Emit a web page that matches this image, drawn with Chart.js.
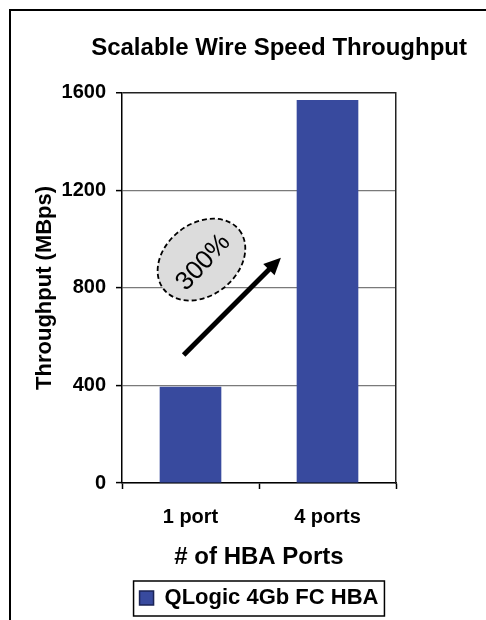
<!DOCTYPE html>
<html>
<head>
<meta charset="utf-8">
<script src="https://cdn.jsdelivr.net/npm/chart.js@4"></script>
<style>
  html, body { margin: 0; padding: 0; background: #fff; }
  #wrap { position: relative; width: 486px; height: 620px; }
</style>
</head>
<body>
<div id="wrap"><canvas id="chart" width="486" height="620"></canvas></div>
<script>
// Chart data
const categories = ['1 port', '4 ports'];
const throughput = [395, 1570];
const seriesName = 'QLogic 4Gb FC HBA';
const yTicks = [0, 400, 800, 1200, 1600];

// "300%" callout, in data space: [category index, MBps]
const calloutCenter = [0.08, 916];
const arrowFrom = [-0.05, 525];
const arrowTo = [0.66, 924];

const barColor = '#384a9e';

// frame, legend box and the 300% callout
const extras = {
    id: 'extras',
    afterDraw(chart) {
        const c = chart.ctx;
        const x = chart.scales.x, y = chart.scales.y;

        // outer frame (left + top)
        c.save();
        c.strokeStyle = '#000';
        c.lineWidth = 2;
        c.beginPath();
        c.moveTo(10, 620);
        c.lineTo(10, 10);
        c.lineTo(486, 10);
        c.stroke();
        c.restore();

        // legend border
        const lg = chart.legend;
        if (lg && lg.legendHitBoxes.length) {
            const hb = lg.legendHitBoxes[0];
            const mid = hb.top + hb.height / 2;
            c.save();
            c.strokeStyle = '#000';
            c.lineWidth = 1.5;
            c.strokeRect(hb.left - 6, mid - 17, hb.width + 12, 35);
            c.restore();
        }

        // ellipse with dashed outline
        const cx = x.getPixelForValue(calloutCenter[0]);
        const cy = y.getPixelForValue(calloutCenter[1]);
        c.save();
        c.translate(cx, cy);
        c.rotate(-38 * Math.PI / 180);
        c.beginPath();
        c.ellipse(0, 0, 48, 36, 0, 0, Math.PI * 2);
        c.fillStyle = '#dcdcdc';
        c.fill();
        c.setLineDash([5, 3]);
        c.lineWidth = 1.8;
        c.strokeStyle = '#000';
        c.stroke();
        c.restore();

        c.save();
        c.translate(cx + 2, cy + 3);
        c.rotate(-47 * Math.PI / 180);
        c.fillStyle = '#000';
        c.font = '26px "Liberation Sans", Arial, sans-serif';
        c.textAlign = 'center';
        c.textBaseline = 'middle';
        c.fillText('300%', 0, 0);
        c.restore();

        // arrow
        const x1 = x.getPixelForValue(arrowFrom[0]), y1 = y.getPixelForValue(arrowFrom[1]);
        const x2 = x.getPixelForValue(arrowTo[0]), y2 = y.getPixelForValue(arrowTo[1]);
        const ang = Math.atan2(y2 - y1, x2 - x1);
        const head = 17;
        c.save();
        c.strokeStyle = '#000';
        c.fillStyle = '#000';
        c.lineWidth = 5;
        c.beginPath();
        c.moveTo(x1, y1);
        c.lineTo(x2 - head * 0.8 * Math.cos(ang), y2 - head * 0.8 * Math.sin(ang));
        c.stroke();
        c.beginPath();
        c.moveTo(x2, y2);
        c.lineTo(x2 - head * Math.cos(ang) + 8 * Math.sin(ang), y2 - head * Math.sin(ang) - 8 * Math.cos(ang));
        c.lineTo(x2 - head * Math.cos(ang) - 8 * Math.sin(ang), y2 - head * Math.sin(ang) + 8 * Math.cos(ang));
        c.closePath();
        c.fill();
        c.restore();
    }
};

const font = '"Liberation Sans", Arial, sans-serif';

new Chart(document.getElementById('chart'), {
    type: 'bar',
    data: {
        labels: categories,
        datasets: [{
            label: seriesName,
            data: throughput,
            backgroundColor: barColor,
            borderWidth: 0,
            categoryPercentage: 1,
            barPercentage: 0.45
        }]
    },
    options: {
        responsive: false,
        animation: false,
        devicePixelRatio: 1,
        layout: { padding: { left: 0, right: 19, top: 0, bottom: 1 } },
        plugins: {
            title: {
                display: true,
                align: 'end',
                text: 'Scalable Wire Speed Throughput',
                color: '#000',
                font: { family: font, size: 24, weight: 'bold' },
                padding: { top: 34, bottom: 30 }
            },
            legend: {
                position: 'bottom',
                fullSize: false,
                labels: {
                    color: '#000',
                    font: { family: font, size: 22, weight: 'bold' },
                    boxWidth: 14,
                    boxHeight: 14,
                    padding: 8,
                    generateLabels: (chart) => [{
                        text: seriesName,
                        fillStyle: barColor,
                        strokeStyle: '#1a2355',
                        lineWidth: 1.5,
                        datasetIndex: 0
                    }]
                }
            },
            tooltip: { enabled: false }
        },
        scales: {
            x: {
                grid: {
                    offset: true,
                    drawOnChartArea: false,
                    drawTicks: true,
                    tickLength: 6,
                    tickColor: '#000',
                    tickWidth: 1.5
                },
                border: { color: '#000', width: 1.5 },
                ticks: {
                    color: '#000',
                    padding: 16,
                    font: { family: font, size: 20, weight: 'bold' }
                },
                title: {
                    display: true,
                    text: '# of HBA Ports',
                    color: '#000',
                    font: { family: font, size: 24, weight: 'bold' },
                    padding: { top: 0, bottom: 7 }
                },
                afterFit: (s) => { s.height = 96; }
            },
            y: {
                min: 0,
                max: 1600,
                afterBuildTicks: (s) => { s.ticks = yTicks.map(v => ({ value: v })); },
                grid: {
                    color: (ctx) => ctx.tick && ctx.tick.value === 1600 ? '#222' : '#7a7a7a',
                    lineWidth: (ctx) => ctx.tick && ctx.tick.value === 1600 ? 1.5 : 1.2,
                    tickLength: 6,
                    tickColor: '#000',
                    tickWidth: 1.5
                },
                border: { color: '#000', width: 1.5 },
                ticks: {
                    color: '#000',
                    padding: 10,
                    font: { family: font, size: 20, weight: 'bold' },
                    callback: (v) => String(v)
                },
                title: {
                    display: true,
                    text: 'Throughput (MBps)',
                    color: '#000',
                    font: { family: font, size: 22, weight: 'bold' },
                    padding: { top: 32, bottom: 0 }
                },
                afterFit: (s) => { s.width = 122; }
            },
            yR: {
                position: 'right',
                min: 0,
                max: 1600,
                grid: { drawOnChartArea: false, drawTicks: false },
                ticks: { display: false },
                border: { color: '#222', width: 1.5 },
                afterFit: (s) => { s.width = 71; }
            }
        }
    },
    plugins: [extras]
});
</script>
</body>
</html>
